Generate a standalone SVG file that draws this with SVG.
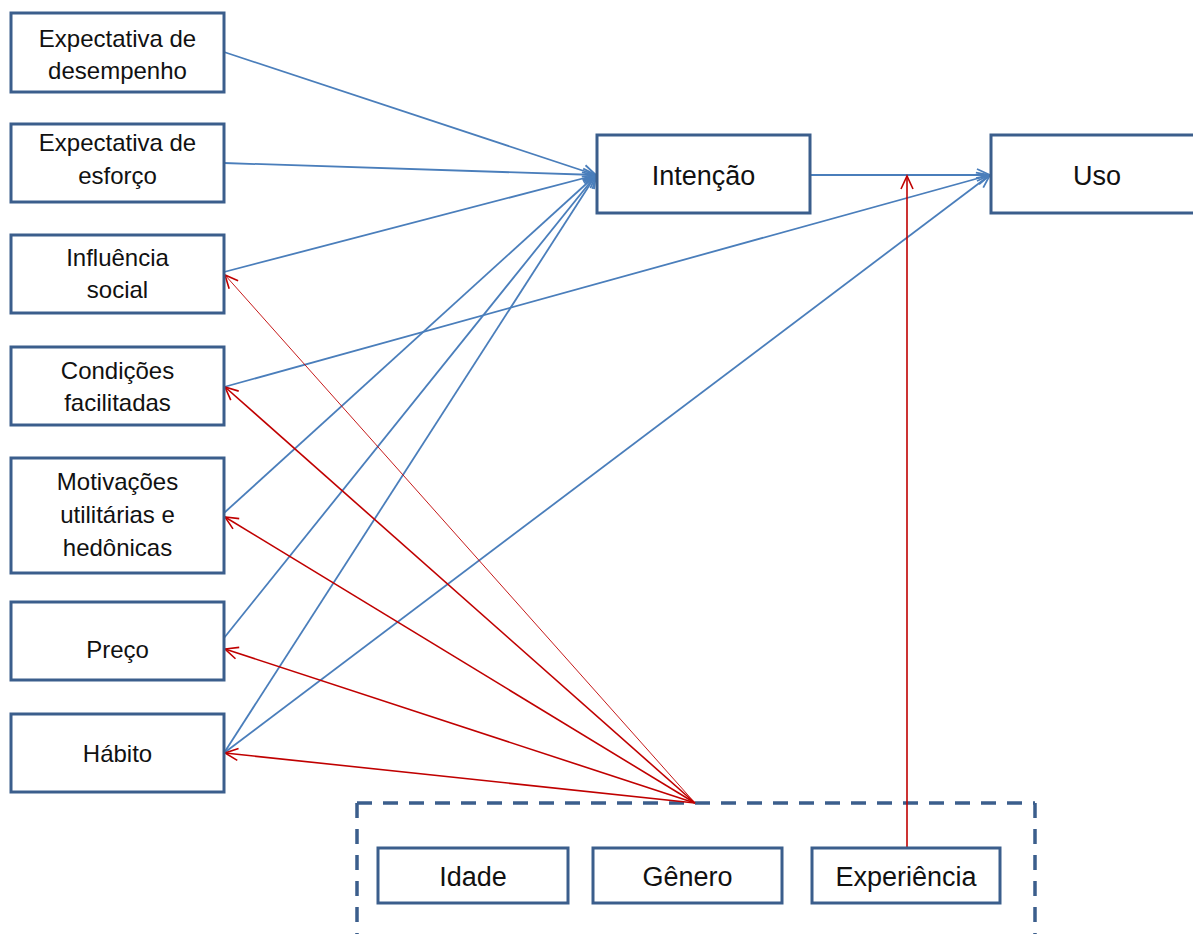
<svg xmlns="http://www.w3.org/2000/svg" width="1193" height="934" viewBox="0 0 1193 934">
<style>
.box{fill:#fff;stroke:#3B5E8C;stroke-width:3}
.t{font-family:"Liberation Sans",Arial,sans-serif;font-size:24px;fill:#111;text-anchor:middle}
.tb{font-family:"Liberation Sans",Arial,sans-serif;font-size:27px;fill:#111;text-anchor:middle}
.blue{stroke:#4A7EBB;stroke-width:1.8;fill:none;marker-end:url(#ab)}
.red{stroke:#C00000;stroke-width:1.6;fill:none;marker-end:url(#ar)}
</style>
<defs>
<marker id="ab" viewBox="-14 -8 16 16" markerWidth="16" markerHeight="16" refX="0" refY="0" orient="auto" markerUnits="userSpaceOnUse"><path d="M-13,-6 L0,0 L-13,6" fill="none" stroke="#4A7EBB" stroke-width="1.8"/></marker>
<marker id="ar" viewBox="-14 -8 16 16" markerWidth="16" markerHeight="16" refX="0" refY="0" orient="auto" markerUnits="userSpaceOnUse"><path d="M-13,-6 L0,0 L-13,6" fill="none" stroke="#C00000" stroke-width="1.6"/></marker>
</defs>
<rect width="1193" height="934" fill="#fff"/>
<path d="M357,803 H1035 M357,803 V934 M1035,803 V934" fill="none" stroke="#3B5E8C" stroke-width="3.5" stroke-dasharray="15 11"/>
<g id="connectors">
<line class="blue" x1="224" y1="52" x2="596" y2="175"/>
<line class="blue" x1="224" y1="163" x2="596" y2="175"/>
<line class="blue" x1="224" y1="272" x2="596" y2="175"/>
<line class="blue" x1="224" y1="513" x2="596" y2="175"/>
<line class="blue" x1="224" y1="638" x2="596" y2="175"/>
<line class="blue" x1="224" y1="753" x2="596" y2="175"/>
<line class="blue" x1="224" y1="387" x2="990" y2="175"/>
<line class="blue" x1="224" y1="753" x2="990" y2="175"/>
<line class="blue" x1="810" y1="175" x2="990" y2="175"/>
<line class="red" x1="695" y1="803" x2="225" y2="275" style="stroke-width:0.9"/>
<line class="red" x1="695" y1="803" x2="225" y2="387"/>
<line class="red" x1="695" y1="803" x2="225" y2="517"/>
<line class="red" x1="695" y1="803" x2="225" y2="649"/>
<line class="red" x1="695" y1="803" x2="225" y2="753"/>
<line class="red" x1="907" y1="848" x2="907" y2="176"/>
</g>
<g id="n1"><rect class="box" x="11" y="13" width="213" height="79"/><text class="t" x="117.5" y="47">Expectativa de</text><text class="t" x="117.5" y="79">desempenho</text></g>
<g id="n2"><rect class="box" x="11" y="124" width="213" height="78"/><text class="t" x="117.5" y="151">Expectativa de</text><text class="t" x="117.5" y="184">esforço</text></g>
<g id="n3"><rect class="box" x="11" y="235" width="213" height="78"/><text class="t" x="117.5" y="266">Influência</text><text class="t" x="117.5" y="298">social</text></g>
<g id="n4"><rect class="box" x="11" y="347" width="213" height="78"/><text class="t" x="117.5" y="379">Condições</text><text class="t" x="117.5" y="411">facilitadas</text></g>
<g id="n5"><rect class="box" x="11" y="458" width="213" height="115"/><text class="t" x="117.5" y="490">Motivações</text><text class="t" x="117.5" y="523">utilitárias e</text><text class="t" x="117.5" y="556">hedônicas</text></g>
<g id="n6"><rect class="box" x="11" y="602" width="213" height="78"/><text class="t" x="117.5" y="658">Preço</text></g>
<g id="n7"><rect class="box" x="11" y="714" width="213" height="78"/><text class="t" x="117.5" y="762">Hábito</text></g>
<g id="intencao"><rect class="box" x="597" y="135" width="213" height="78"/><text class="tb" x="703.5" y="185">Intenção</text></g>
<g id="uso"><rect class="box" x="991" y="135" width="213" height="78"/><text class="tb" x="1097" y="185">Uso</text></g>
<g id="idade"><rect class="box" x="378" y="848" width="190" height="55"/><text class="tb" x="473" y="886">Idade</text></g>
<g id="genero"><rect class="box" x="593" y="848" width="189" height="55"/><text class="tb" x="687.5" y="886">Gênero</text></g>
<g id="experiencia"><rect class="box" x="812" y="848" width="188" height="55"/><text class="tb" x="906" y="886">Experiência</text></g>
</svg>
